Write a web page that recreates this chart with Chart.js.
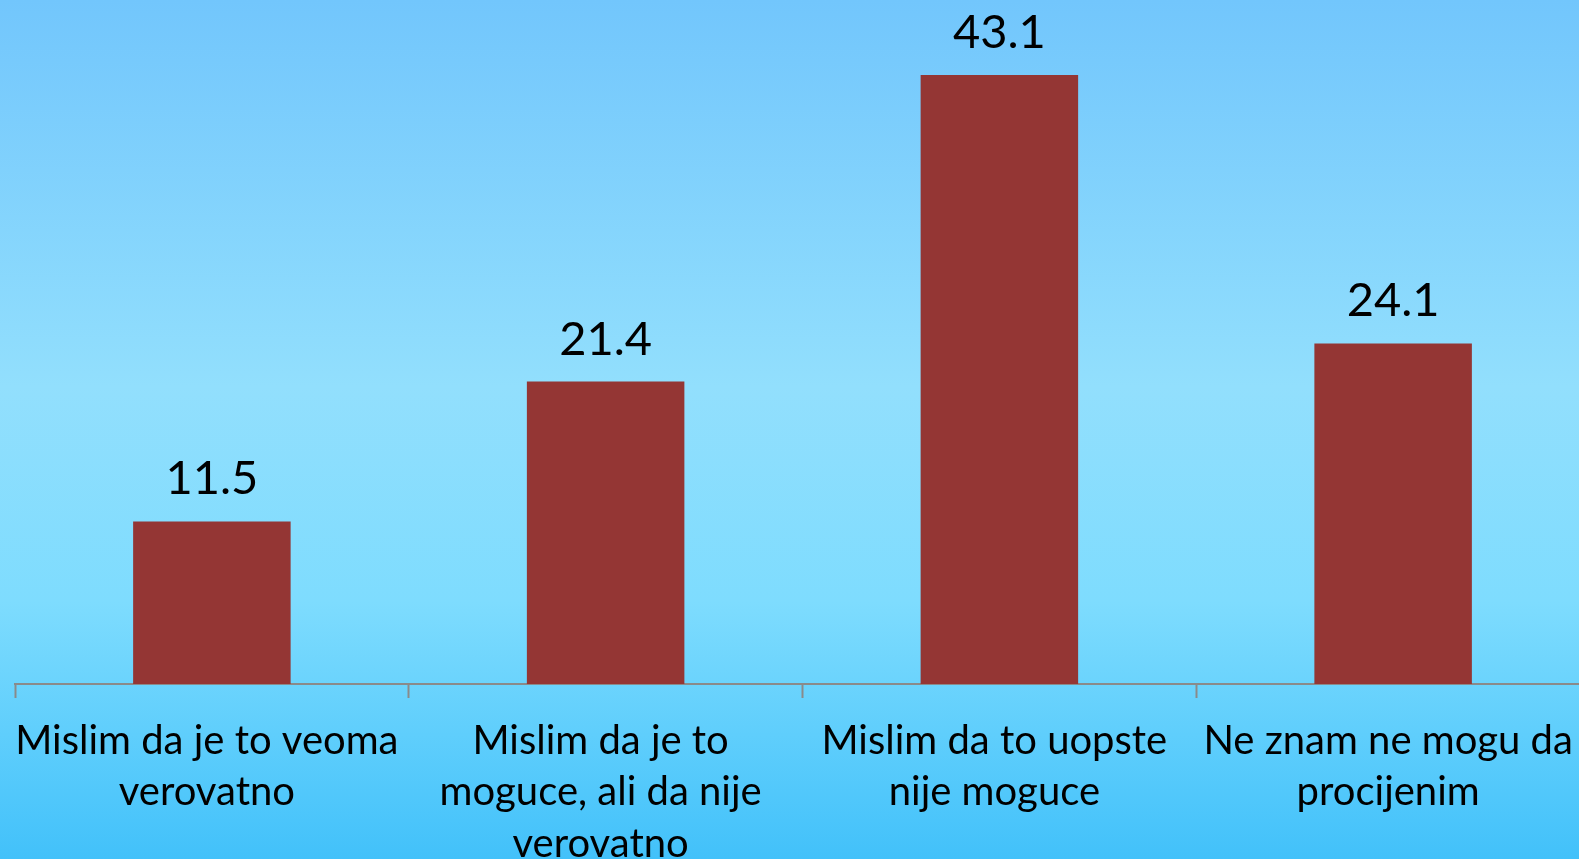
<!DOCTYPE html>
<html>
<head>
<meta charset="utf-8">
<script src="https://cdn.jsdelivr.net/npm/chart.js@4"></script>
<style>
  html, body {
    margin: 0;
    padding: 0;
    width: 1579px;
    height: 859px;
    overflow: hidden;
    background: linear-gradient(to bottom, #72c6fc 0%, #92dffd 45%, #7edcfe 70%, #42c1fa 100%);
  }
  #wrap {
    position: absolute;
    left: 0;
    top: 0;
    width: 1600px;
    height: 859px;
  }
</style>
</head>
<body>
<div id="wrap"><canvas id="chart"></canvas></div>
<script>
// data
const categories = [
  ['Mislim da je to veoma', 'verovatno'],
  ['Mislim da je to', 'moguce, ali da nije', 'verovatno'],
  ['Mislim da to uopste', 'nije moguce'],
  ['Ne znam ne mogu da', 'procijenim']
]
const values = [11.5, 21.4, 43.1, 24.1]

// value labels above the bars
const valueLabels = {
  id: 'valueLabels',
  afterDatasetsDraw(chart) {
    const ctx = chart.ctx
    const meta = chart.getDatasetMeta(0)
    ctx.save()
    ctx.font = '47px Lato'
    ctx.fillStyle = '#000'
    ctx.textAlign = 'center'
    ctx.textBaseline = 'alphabetic'
    meta.data.forEach((bar, i) => {
      ctx.fillText(values[i].toFixed(1), bar.x, bar.y - 27)
    })
    ctx.restore()
  }
}

new Chart(document.getElementById('chart'), {
  type: 'bar',
  data: {
    labels: categories,
    datasets: [{
      data: values,
      backgroundColor: '#943634',
      borderWidth: 0,
      categoryPercentage: 1,
      barPercentage: 0.4
    }]
  },
  options: {
    responsive: true,
    maintainAspectRatio: false,
    animation: false,
    layout: {
      padding: { left: 15, right: 10, top: 0, bottom: 0 }
    },
    plugins: {
      legend: { display: false },
      tooltip: { enabled: false }
    },
    scales: {
      y: {
        display: false,
        min: 0,
        max: 48.4
      },
      x: {
        afterFit(scale) {
          scale.height = 175
        },
        border: {
          display: true,
          color: '#8a8a8a',
          width: 2
        },
        grid: {
          display: true,
          drawOnChartArea: false,
          drawTicks: true,
          tickLength: 14,
          tickWidth: 2,
          tickColor: '#8a8a8a',
          offset: true
        },
        ticks: {
          autoSkip: false,
          maxRotation: 0,
          minRotation: 0,
          padding: 17,
          labelOffset: -5,
          color: '#000',
          font: { family: 'Lato', size: 40, lineHeight: 1.29 }
        }
      }
    }
  },
  plugins: [valueLabels]
})
</script>
</body>
</html>
